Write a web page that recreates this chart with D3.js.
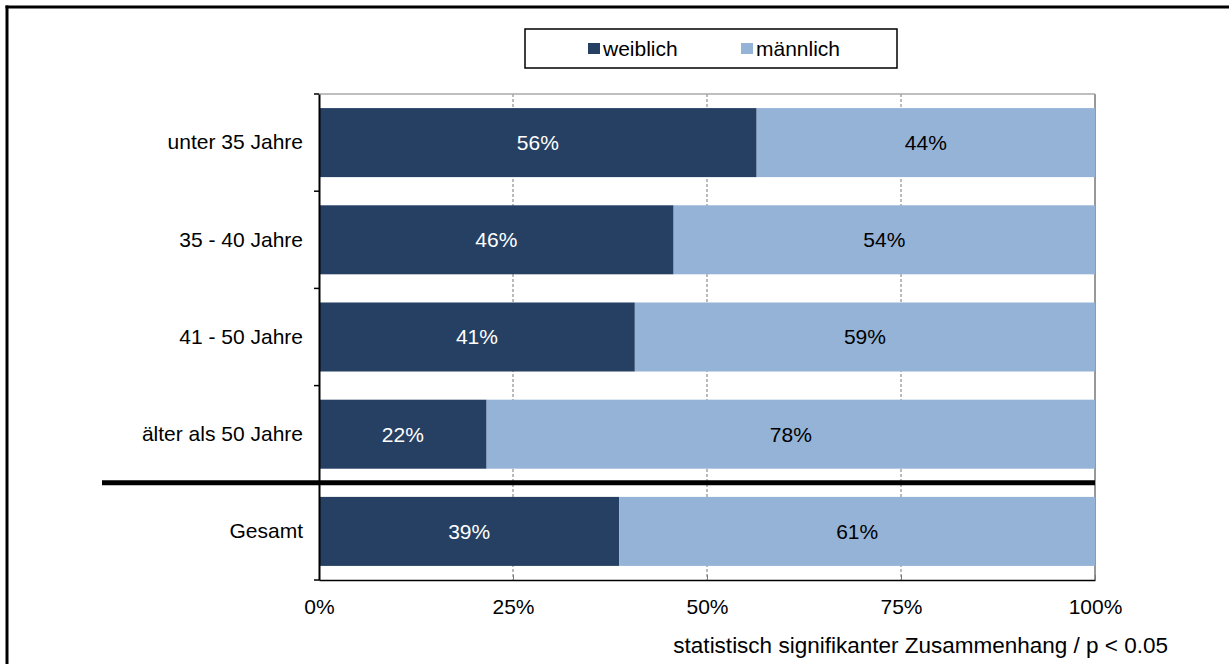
<!DOCTYPE html>
<meta charset="utf-8">
<style>
body {margin: 0; background: #fff; overflow: hidden;}
svg {display: block;}
text {font-family: "Liberation Sans", Arial, sans-serif; font-size: 21px;}
</style>
<body>
<script src="https://d3js.org/d3.v7.min.js"></script>
<div id="chart"></div>
<script>
// data
var categories = ["unter 35 Jahre", "35 - 40 Jahre", "41 - 50 Jahre", "älter als 50 Jahre", "Gesamt"];
var weiblich = [56.4, 45.7, 40.7, 21.6, 38.7];
var maennlich = [43.6, 54.3, 59.3, 78.4, 61.3];
var seriesNames = ["weiblich", "männlich"];
var colors = ["#264063", "#95b3d7"];
var labelColors = ["#ffffff", "#000000"];
var xTicks = [0, 25, 50, 75, 100];
var note = "statistisch signifikanter Zusammenhang / p < 0.05";

var width = 1229, height = 664;
var mLeft = 319, mRight = 1095, mTop = 94, mBottom = 580;

var svg = d3.select("#chart").append("svg")
    .attr("width", width)
    .attr("height", height);

// outer frame (only top/left visible)
svg.append("line")
    .attr("x1", 7).attr("x2", 7).attr("y1", 5.5).attr("y2", height)
    .attr("stroke", "#000").attr("stroke-width", 3);
svg.append("line")
    .attr("x1", 5.5).attr("x2", width).attr("y1", 7).attr("y2", 7)
    .attr("stroke", "#000").attr("stroke-width", 3);

var x = d3.scaleLinear().domain([0, 100]).range([mLeft, mRight]);
var y = d3.scaleBand().domain(categories).range([mTop, mBottom]).paddingInner(0.29).paddingOuter(0.145);
var yb = d3.scaleBand().domain(categories).range([mTop, mBottom]);

// gridlines
svg.append("g").selectAll("line")
    .data(xTicks.slice(1))
    .join("line")
    .attr("x1", d => x(d)).attr("x2", d => x(d))
    .attr("y1", mTop).attr("y2", mBottom)
    .attr("stroke", d => d === 100 ? "#333" : "#777")
    .attr("stroke-width", 1)
    .attr("stroke-dasharray", d => d === 100 ? null : "3,2");

// top border of plot
svg.append("line")
    .attr("x1", mLeft).attr("x2", mRight)
    .attr("y1", mTop).attr("y2", mTop)
    .attr("stroke", "#aaa").attr("stroke-width", 1.5);

// stacked bars
var rows = categories.map((c, i) => ({cat: c, vals: [weiblich[i], maennlich[i]]}));
var g = svg.append("g");
rows.forEach(function(r) {
  var x0 = 0;
  r.vals.forEach(function(v, j) {
    g.append("rect")
      .attr("x", x(x0))
      .attr("y", y(r.cat))
      .attr("width", x(x0 + v) - x(x0))
      .attr("height", y.bandwidth())
      .attr("fill", colors[j]);
    g.append("text")
      .attr("x", (x(x0) + x(x0 + v)) / 2)
      .attr("y", y(r.cat) + y.bandwidth() / 2)
      .attr("dy", "0.35em")
      .attr("text-anchor", "middle")
      .attr("fill", labelColors[j])
      .text(Math.round(v) + "%");
    x0 += v;
  });
});

// x axis
var xAxis = svg.append("g")
    .attr("transform", "translate(0," + mBottom + ")")
    .call(d3.axisBottom(x).tickValues(xTicks).tickFormat(d => d + "%").tickSizeInner(5).tickSizeOuter(0).tickPadding(14));
xAxis.select(".domain").attr("stroke", "#000").attr("stroke-width", 1.5);
xAxis.selectAll(".tick line").attr("stroke", "#777").attr("transform", "translate(0,-5)");
xAxis.selectAll("text").attr("fill", "#000");

// y axis
var yAxis = svg.append("g")
    .attr("transform", "translate(" + mLeft + ",0)")
    .call(d3.axisLeft(yb).tickSize(0).tickPadding(16));
yAxis.select(".domain").attr("stroke", "#000").attr("stroke-width", 2);
yAxis.selectAll("text").attr("fill", "#000");
// tick marks at band boundaries
svg.append("g").selectAll("line")
    .data(categories.concat(["end"]))
    .join("line")
    .attr("x1", mLeft - 5).attr("x2", mLeft)
    .attr("y1", (d, i) => mTop + i * yb.step())
    .attr("y2", (d, i) => mTop + i * yb.step())
    .attr("stroke", "#000").attr("stroke-width", 1.5);

// thick separator above Gesamt
var sepY = yb("Gesamt");
svg.append("line")
    .attr("x1", 102).attr("x2", mRight)
    .attr("y1", sepY).attr("y2", sepY)
    .attr("stroke", "#000").attr("stroke-width", 5);

// legend
var legend = svg.append("g");
legend.append("rect")
    .attr("x", 525).attr("y", 29).attr("width", 372).attr("height", 39)
    .attr("fill", "#fff").attr("stroke", "#000").attr("stroke-width", 1.5);
var legX = [588, 741];
seriesNames.forEach(function(s, i) {
  legend.append("rect")
    .attr("x", legX[i]).attr("y", 43).attr("width", 12).attr("height", 11)
    .attr("fill", colors[i]);
  legend.append("text")
    .attr("x", legX[i] + 15).attr("y", 56)
    .attr("fill", "#000")
    .text(s);
});

// note
svg.append("text")
    .attr("x", 1168).attr("y", 653)
    .attr("text-anchor", "end")
    .attr("fill", "#000")
    .style("font-size", "22.5px")
    .text(note);
</script>
</body>
